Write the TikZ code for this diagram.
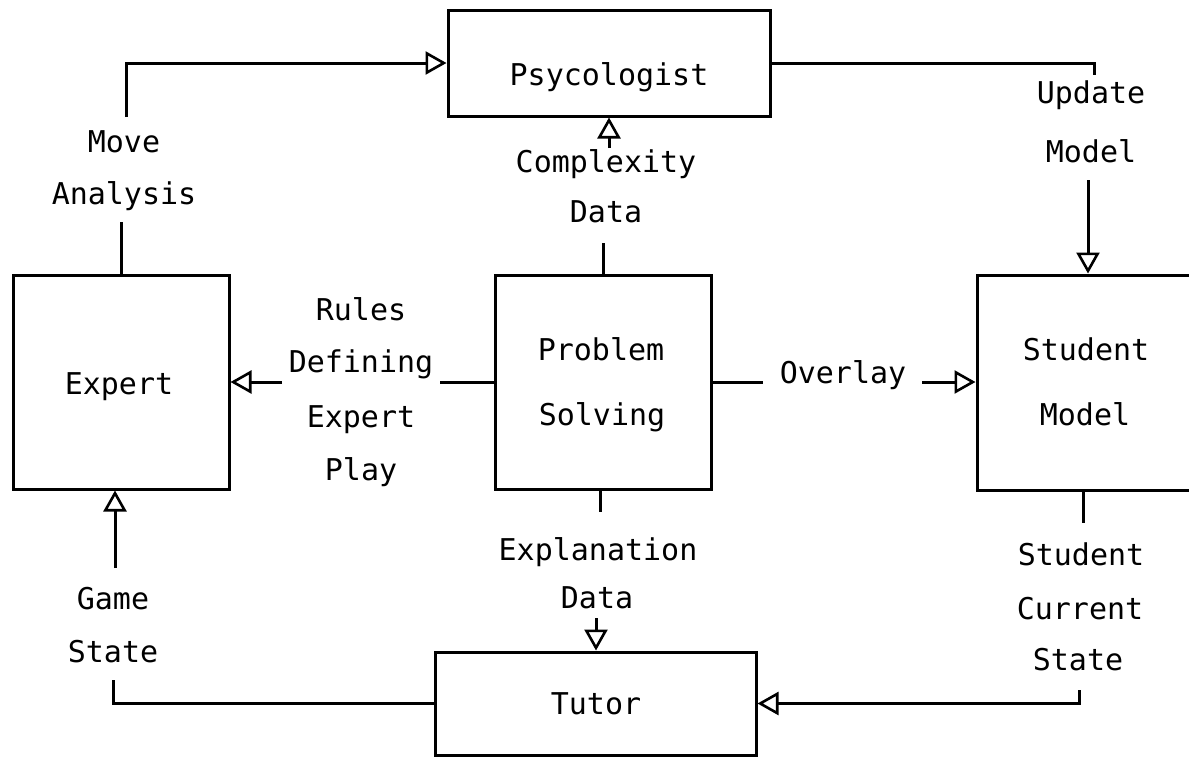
\documentclass[tikz,border=0pt]{standalone}
\usepackage{fontspec}
\setmainfont{DejaVu Sans Mono}
\usetikzlibrary{arrows.meta}
\begin{document}
\begin{tikzpicture}[x=1pt,y=-1pt,
  box/.style={draw, line width=3pt, inner sep=0pt},
  wire/.style={line width=3pt},
  arr/.style={wire, -{Triangle[open, length=21pt, width=23pt, line width=2.6pt]}},
  lbl/.style={inner sep=0pt, anchor=base, font=\fontsize{30}{36}\selectfont}]
\useasboundingbox (0,0) rectangle (1189,758);
\clip (0,0) rectangle (1189,758);

% blocks
\node[box, minimum width=322pt, minimum height=106pt] (psy)     at (609,63)    {};
\node[box, minimum width=216pt, minimum height=214pt] (expert)  at (121,382)   {};
\node[box, minimum width=216pt, minimum height=214pt] (ps)      at (603,382)   {};
\node[box, minimum width=222pt, minimum height=215pt] (student) at (1088,382.5) {};
\node[box, minimum width=321pt, minimum height=103pt] (tutor)   at (595.5,703.5) {};

% block names
\node[lbl] (psyname) at (609,85)  {Psycologist};
\node[lbl] (expname) at (119,394) {Expert};
\node[lbl] (psname1) at (601,360) {Problem};
\node[lbl] (psname2) at (602,425) {Solving};
\node[lbl] (smname1) at (1086,360) {Student};
\node[lbl] (smname2) at (1085,425) {Model};
\node[lbl] (tutname) at (596,714) {Tutor};

% connector labels
\node[lbl] (ma1) at (124,152) {Move};
\node[lbl] (ma2) at (124,204) {Analysis};
\node[lbl] (cd1) at (606,172) {Complexity};
\node[lbl] (cd2) at (606,222) {Data};
\node[lbl] (um1) at (1091,103) {Update};
\node[lbl] (um2) at (1091,162) {Model};
\node[lbl] (rd1) at (361,320) {Rules};
\node[lbl] (rd2) at (361,372) {Defining};
\node[lbl] (rd3) at (361,427) {Expert};
\node[lbl] (rd4) at (361,480) {Play};
\node[lbl] (ov)  at (843,383) {Overlay};
\node[lbl] (ed1) at (598,560) {Explanation};
\node[lbl] (ed2) at (597,608) {Data};
\node[lbl] (gs1) at (113,609) {Game};
\node[lbl] (gs2) at (113,662) {State};
\node[lbl] (sc1) at (1081,565) {Student};
\node[lbl] (sc2) at (1080,619) {Current};
\node[lbl] (sc3) at (1078,670) {State};

% free ends of the connectors, beside their labels
\coordinate (ma-bot)  at (121,222);
\coordinate (ma-top)  at (126,117);
\coordinate (um-top)  at (1094,75);
\coordinate (um-bot)  at (1088,180);
\coordinate (cd-bot)  at (603,243);
\coordinate (cd-top)  at (609,148);
\coordinate (rd-right) at (440,382);
\coordinate (rd-left)  at (282,382);
\coordinate (ov-left)  at (763,382);
\coordinate (ov-right) at (922,382);
\coordinate (ed-top)  at (600,512);
\coordinate (ed-bot)  at (596,618);
\coordinate (sc-top)  at (1083,523);
\coordinate (sc-bot)  at (1079,690);
\coordinate (gs-bot)  at (113,680);
\coordinate (gs-top)  at (115,568);

% Move Analysis
\draw[wire] (expert.north) -- (ma-bot);
\draw[arr] (ma-top) |- (psy.west);
% Update Model
\draw[wire] (psy.east) -| (um-top);
\draw[arr] (um-bot) -- (um-bot |- student.north);
% Complexity Data
\draw[wire] (cd-bot |- ps.north) -- (cd-bot);
\draw[arr] (cd-top) -- (cd-top |- psy.south);
% Rules Defining Expert Play
\draw[wire] (rd-right -| ps.west) -- (rd-right);
\draw[arr] (rd-left) -- (rd-left -| expert.east);
% Overlay
\draw[wire] (ov-left -| ps.east) -- (ov-left);
\draw[arr] (ov-right) -- (ov-right -| student.west);
% Explanation Data
\draw[wire] (ed-top |- ps.south) -- (ed-top);
\draw[arr] (ed-bot) -- (ed-bot |- tutor.north);
% Student Current State
\draw[wire] (sc-top |- student.south) -- (sc-top);
\draw[arr] (sc-bot) |- (tutor.east);
% Game State
\draw[wire] (tutor.west) -| (gs-bot);
\draw[arr] (gs-top) -- (gs-top |- expert.south);
\end{tikzpicture}
\end{document}
